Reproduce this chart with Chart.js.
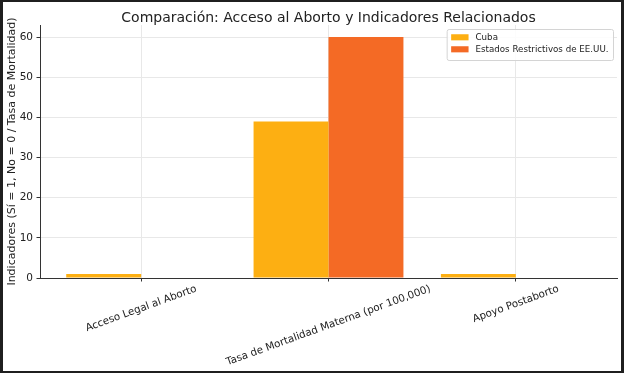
<!DOCTYPE html>
<html><head><meta charset="utf-8">
<script src="https://cdn.jsdelivr.net/npm/chart.js@4/dist/chart.umd.min.js"></script>
<style>
html,body{margin:0;padding:0;background:#1f1f1f;width:624px;height:373px;overflow:hidden}
#wrap{position:absolute;left:3px;top:2px;width:618px;height:369px;background:#fff}
canvas{display:block}
</style></head><body><div id="wrap"><canvas id="c" width="618" height="369"></canvas></div>
<script>
const categories = ['Acceso Legal al Aborto', 'Tasa de Mortalidad Materna (por 100,000)', 'Apoyo Postaborto'];
const seriesNames = ['Cuba', 'Estados Restrictivos de EE.UU.'];
const cubaValues = [1, 39, 1];
const usValues = [0, 60, 0];
const yTicks = [0, 10, 20, 30, 40, 50, 60];
const titleText = 'Comparación: Acceso al Aborto y Indicadores Relacionados';
const yTitle = 'Indicadores (Sí = 1, No = 0 / Tasa de Mortalidad)';

const FONT = "'DejaVu Sans', sans-serif";
const TXT = '#222';
const colors = ['#FDAF12', '#F46A25'];

const extras = {
  id: 'extras',
  afterDraw(chart) {
    const {ctx, chartArea: a, scales: {x}} = chart;
    ctx.save();
    ctx.fillStyle = TXT;
    ctx.textAlign = 'center';
    ctx.textBaseline = 'middle';
    ctx.font = `14px ${FONT}`;
    ctx.fillText(titleText, (a.left + a.right) / 2, 16);
    // rotated, centred category labels
    const fs = 10.3, th = 20 * Math.PI / 180;
    ctx.font = `${fs}px ${FONT}`;
    categories.forEach((lab, i) => {
      const px = x.getPixelForValue(i);
      const L = ctx.measureText(lab).width;
      const h = fs * 1.16;
      const bh = L * Math.sin(th) + h * Math.cos(th);
      const cy = a.bottom + 5 + bh / 2;
      ctx.save();
      ctx.translate(px, cy);
      ctx.rotate(-th);
      ctx.fillText(lab, 0, 0);
      ctx.restore();
    });
    // legend inside plot area
    const lfs = 8.7, pad = 4.5, hl = 17.4, hh = 6.1, gap = 7, rowH = 12;
    ctx.font = `${lfs}px ${FONT}`;
    const ds = chart.data.datasets;
    const maxW = Math.max(...ds.map(d => ctx.measureText(d.label).width));
    const w = pad + hl + gap + maxW + pad;
    const hgt = 31;
    const lx = a.right - 4 - w, ly = a.top + 4;
    ctx.beginPath();
    ctx.roundRect(lx + 0.5, ly + 0.5, w, hgt, 2);
    ctx.fillStyle = 'rgba(255,255,255,0.85)';
    ctx.fill();
    ctx.strokeStyle = '#d4d4d4';
    ctx.lineWidth = 1;
    ctx.stroke();
    ds.forEach((d, i) => {
      const cy = ly + 8.3 + i * rowH;
      ctx.fillStyle = d.backgroundColor;
      ctx.fillRect(lx + pad, cy - hh / 2, hl, hh);
      ctx.fillStyle = TXT;
      ctx.textAlign = 'left';
      ctx.fillText(d.label, lx + pad + hl + gap, cy);
    });
    ctx.restore();
  }
};

new Chart(document.getElementById('c'), {
  type: 'bar',
  data: {
    datasets: [
      {label: seriesNames[0], data: cubaValues.map((v, i) => ({x: i, y: v})), backgroundColor: colors[0], borderWidth: 0},
      {label: seriesNames[1], data: usValues.map((v, i) => ({x: i, y: v})), backgroundColor: colors[1], borderWidth: 0}
    ]
  },
  options: {
    responsive: false,
    animation: false,
    layout: {padding: {top: 23, right: 4, left: 0, bottom: 0}},
    datasets: {bar: {categoryPercentage: 0.8, barPercentage: 1.0}},
    plugins: {legend: {display: false}, title: {display: false}, tooltip: {enabled: false}},
    scales: {
      x: {
        type: 'linear', min: -0.54, max: 2.54, offset: false,
        afterBuildTicks: s => { s.ticks = categories.map((_, i) => ({value: i})); },
        afterFit: s => { s.height = 93; },
        ticks: {display: false},
        grid: {offset: false, color: '#e8e8e8', lineWidth: 1, tickLength: 3.5, tickColor: '#333'},
        border: {display: true, color: '#333', width: 1}
      },
      y: {
        min: 0, max: 63,
        afterBuildTicks: s => { s.ticks = yTicks.map(v => ({value: v})); },
        afterFit: s => { s.width = 37; },
        ticks: {font: {family: FONT, size: 10.5}, color: TXT, padding: 3.5},
        grid: {color: '#e8e8e8', tickLength: 3.5, tickColor: '#333'},
        border: {display: true, color: '#333', width: 1},
        title: {display: true, text: yTitle, font: {family: FONT, size: 11}, color: TXT, padding: {top: 3, bottom: 0}}
      }
    }
  },
  plugins: [extras]
});
</script>
</body></html>
